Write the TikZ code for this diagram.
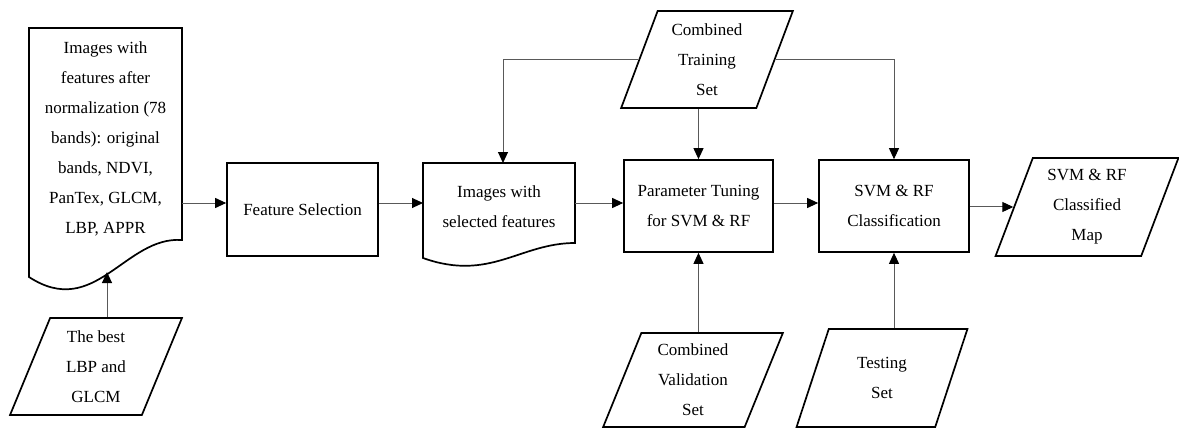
\documentclass[tikz,border=0pt]{standalone}
\usepackage{fontspec}
\setmainfont{Liberation Serif}
\usetikzlibrary{shapes.geometric,arrows.meta}
\begin{document}
\begin{tikzpicture}[x=1pt,y=-1pt,
  every node/.style={font=\fontsize{17}{30}\selectfont, align=center, inner sep=0pt},
  proc/.style={draw=black, line width=1.7pt, rectangle, minimum width=150pt, minimum height=92pt},
  io/.style={draw=black, line width=1.7pt, trapezium, trapezium left angle=70, trapezium right angle=110,
     trapezium stretches=true, minimum width=#1, minimum height=97pt},
  docline/.style={draw=black, line width=1.7pt, line join=miter},
  conn/.style={draw=black!65, line width=1pt, -{Triangle[length=11pt,width=10pt,color=black]}}
]
\useasboundingbox (0,0) rectangle (1179,428);

% document shapes
\draw[docline] (29,28) -- (182,28) -- (182,240) .. controls (125,236) and (95,320) .. (29,277) -- cycle;
\node (doc1) at (105.5,139) {Images with\\features after\\normalization (78\\bands): original\\bands, NDVI,\\PanTex, GLCM,\\LBP, APPR};
\draw[docline] (423,163) -- (575,163) -- (575,243) .. controls (520,243) and (490,282) .. (423,258) -- cycle;
\node (doc2) at (499,207) {Images with\\selected features};
\coordinate (d1out) at (182,203);
\coordinate (d1in) at (107,272);
\coordinate (d2in) at (423,203);
\coordinate (d2out) at (575,203);
\coordinate (d2top) at (503,163);

% process boxes
\node[proc, minimum width=151pt, minimum height=93pt] (FS) at (302.5,209.5) {Feature Selection};
\node[proc, minimum width=149pt] (PT) at (698.5,206) {Parameter Tuning\\for SVM \& RF};
\node[proc] (SVM) at (894,206) {SVM \& RF\\Classification};

% data (parallelograms)
\node[io=172pt] (lbp) at (96,366.5) {The best\\LBP and\\GLCM};
\node[io=172pt] (train) at (707,59.5) {Combined\\Training\\Set};
\node[io=180pt, minimum height=94pt] (val) at (693,380) {Combined\\Validation\\Set};
\node[io=171pt, minimum height=98pt] (test) at (882,378) {Testing\\Set};
\node[io=183pt, minimum height=98pt] (out) at (1087,207) {SVM \& RF\\Classified\\Map};

% connectors
\draw[conn] (lbp.north -| d1in) -- (d1in);
\draw[conn] (d1out) -- (d1out -| FS.west);
\draw[conn] (FS.east |- d1out) -- (d2in);
\draw[conn] (d2out) -- (d2out -| PT.west);
\draw[conn] (PT.east |- d2out) -- (d2out -| SVM.west);
\draw[conn] (SVM.east |- out.west) -- (out.west);
\draw[conn] (train.west) -| (d2top);
\draw[conn] (train.east) -| (SVM.north);
\draw[conn] (train.south -| PT.north) -- (PT.north);
\draw[conn] (val.north -| PT.south) -- (PT.south);
\draw[conn] (test.north -| SVM.south) -- (SVM.south);
\end{tikzpicture}
\end{document}
